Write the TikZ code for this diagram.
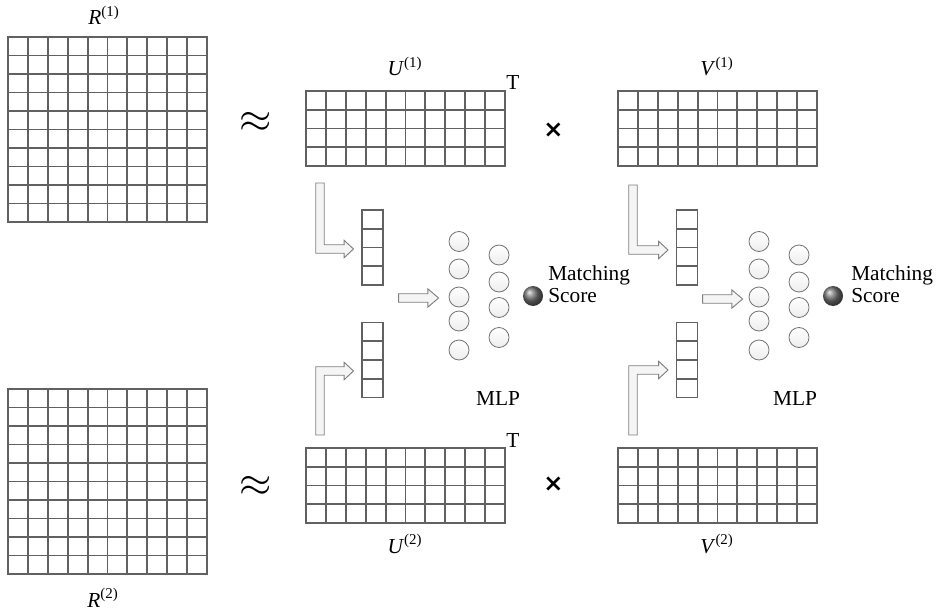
\documentclass[tikz,border=0pt]{standalone}
\usepackage{fontspec}
\setmainfont{Liberation Serif}
\newfontfamily\symfont{DejaVu Sans}
\usetikzlibrary{calc,positioning}

% grid lines inside a matrix node: node, columns, rows
\newcommand\cells[3]{%
  \foreach \i in {1,...,#2}
    \draw[cellline] ($(#1.north west)!\i/#2!(#1.north east)$) -- ($(#1.south west)!\i/#2!(#1.south east)$);
  \foreach \j in {1,...,#3}
    \draw[cellline] ($(#1.north west)!\j/#3!(#1.south west)$) -- ($(#1.north east)!\j/#3!(#1.south east)$);
}
% hollow bent arrow: start, tip, 1 = going down / -1 = going up
\newcommand\bentarrow[3]{%
  \path[fatarrow] let \p1=#1, \p2=#2 in
    ({\x1-3.2pt},\y1) -- ({\x1-3.2pt},{\y2-(#3)*3.2pt}) -- ({\x2-7pt},{\y2-(#3)*3.2pt})
    -- ({\x2-7pt},{\y2-(#3)*6.5pt}) -- (\x2,\y2) -- ({\x2-7pt},{\y2+(#3)*6.5pt})
    -- ({\x2-7pt},{\y2+(#3)*3.2pt}) -- ({\x1+3.2pt},{\y2+(#3)*3.2pt}) -- ({\x1+3.2pt},\y1) -- cycle;}
% hollow straight arrow: start, tip
\newcommand\fatarrow[2]{%
  \path[fatarrow] let \p1=#1, \p2=#2 in
    (\x1,{\y2-3.2pt}) -- ({\x2-8pt},{\y2-3.2pt}) -- ({\x2-8pt},{\y2-6.8pt}) -- (\x2,\y2)
    -- ({\x2-8pt},{\y2+6.8pt}) -- ({\x2-8pt},{\y2+3.2pt}) -- (\x1,{\y2+3.2pt}) -- cycle;}

\begin{document}
\begin{tikzpicture}[x=0.75pt, y=0.75pt,
    font=\fontsize{16}{16.5}\selectfont,
    mat/.style={draw=black!62, line width=1.4pt, outer sep=0pt, inner sep=0pt},
    bigmat/.style={mat, minimum width=149.25pt, minimum height=138.75pt},
    flatmat/.style={mat, minimum width=149.25pt, minimum height=56.25pt},
    vec/.style={mat, minimum width=15.75pt, minimum height=56.25pt},
    cellline/.style={draw=black!62, line width=1.4pt},
    fatarrow/.style={draw=black!50, line width=0.7pt, fill=black!4, line join=miter},
    neuron/.style={circle, draw=black!55, line width=0.6pt, top color=white,
                   bottom color=black!7, minimum size=15pt, inner sep=0pt},
    outball/.style={circle, ball color=black!55, minimum size=15pt, inner sep=0pt},
    lab/.style={anchor=base, inner sep=0pt},
    times/.style={font=\symfont\bfseries\fontsize{18}{18}\selectfont, inner sep=0pt}
  ]
  \useasboundingbox (0,0) rectangle (937,611);

  % rating matrices
  \node[bigmat] (R1) at (107.5,481.5) {};
  \node[bigmat] (R2) at (107.5,129.5) {};
  \cells{R1}{10}{10}
  \cells{R2}{10}{10}
  \node[lab] (lR1) at (104,586) {\textit{R}\textsuperscript{(1)}};
  \node[lab] (lR2) at (103,4) {\textit{R}\textsuperscript{(2)}};

  \node[scale=1.8] (ap1) at (256,488.5) {$\approx$};
  \node[scale=1.8] (ap2) at (256,124.5) {$\approx$};

  % factor matrices
  \node[flatmat] (U1) at (405.5,482.5) {};
  \node[flatmat] (U2) at (405.5,125.5) {};
  \node[flatmat] (V1) at (717.5,482.5) {};
  \node[flatmat] (V2) at (717.5,125.5) {};
  \cells{U1}{10}{4}
  \cells{U2}{10}{4}
  \cells{V1}{10}{4}
  \cells{V2}{10}{4}
  \node[lab] (lU1) at (405,535) {\textit{U}\textsuperscript{(1)}};
  \node[lab] (lV1) at (717,535) {\textit{V}\textsuperscript{(1)}};
  \node[lab] (lU2) at (405,58) {\textit{U}\textsuperscript{(2)}};
  \node[lab] (lV2) at (717,58) {\textit{V}\textsuperscript{(2)}};
  \node[anchor=base west, inner sep=0pt] (T1) at (506,521) {T};
  \node[anchor=base west, inner sep=0pt] (T2) at (506,164) {T};
  \node[times] (x1) at (553.5,480.5) {×};
  \node[times] (x2) at (553.5,127) {×};

  % latent vectors
  \node[vec] (a1) at (372.5,363.5) {};
  \node[vec] (b1) at (372.5,251) {};
  \node[vec] (a2) at (687,363.5) {};
  \node[vec] (b2) at (687,251) {};
  \cells{a1}{1}{4}
  \cells{b1}{1}{4}
  \cells{a2}{1}{4}
  \cells{b2}{1}{4}

  % MLP 1
  \foreach \y [count=\k] in {369.5,342,314,290,261}
    \node[neuron] (n1\k) at (459,\y) {};
  \foreach \y [count=\k] in {356,329,303.5,273.5}
    \node[neuron] (n2\k) at (499,\y) {};
  \node[outball] (out1) at (533,315) {};
  \node[anchor=west, align=left, inner sep=0pt] (ms1) at (548,327) {Matching\\Score};
  \node[lab] (mlp1) at (498,206) {MLP};

  % MLP 2
  \foreach \y [count=\k] in {369.5,342,314,290,261}
    \node[neuron] (m1\k) at (759,\y) {};
  \foreach \y [count=\k] in {356,329,303.5,273.5}
    \node[neuron] (m2\k) at (799,\y) {};
  \node[outball] (out2) at (833,315) {};
  \node[anchor=west, align=left, inner sep=0pt] (ms2) at (851,327) {Matching\\Score};
  \node[lab] (mlp2) at (795,206) {MLP};

  % arrows
  \bentarrow{($(U1.south west)+(14,-17)$)}{($(a1.west)+(-8.5,-1.5)$)}{1}
  \bentarrow{($(U2.north west)+(14,13)$)}{($(b1.west)+(-8.5,-11)$)}{-1}
  \bentarrow{($(V1.south west)+(15,-19)$)}{($(a2.west)+(-8.5,-2.5)$)}{1}
  \bentarrow{($(V2.north west)+(15,13)$)}{($(b2.west)+(-8.5,-10)$)}{-1}
  \fatarrow{($(n13.west)+(-50,-1)$)}{($(n13.west)+(-10,-1)$)}
  \fatarrow{($(m13.west)+(-46,-2)$)}{($(m13.west)+(-6,-2)$)}
\end{tikzpicture}
\end{document}
